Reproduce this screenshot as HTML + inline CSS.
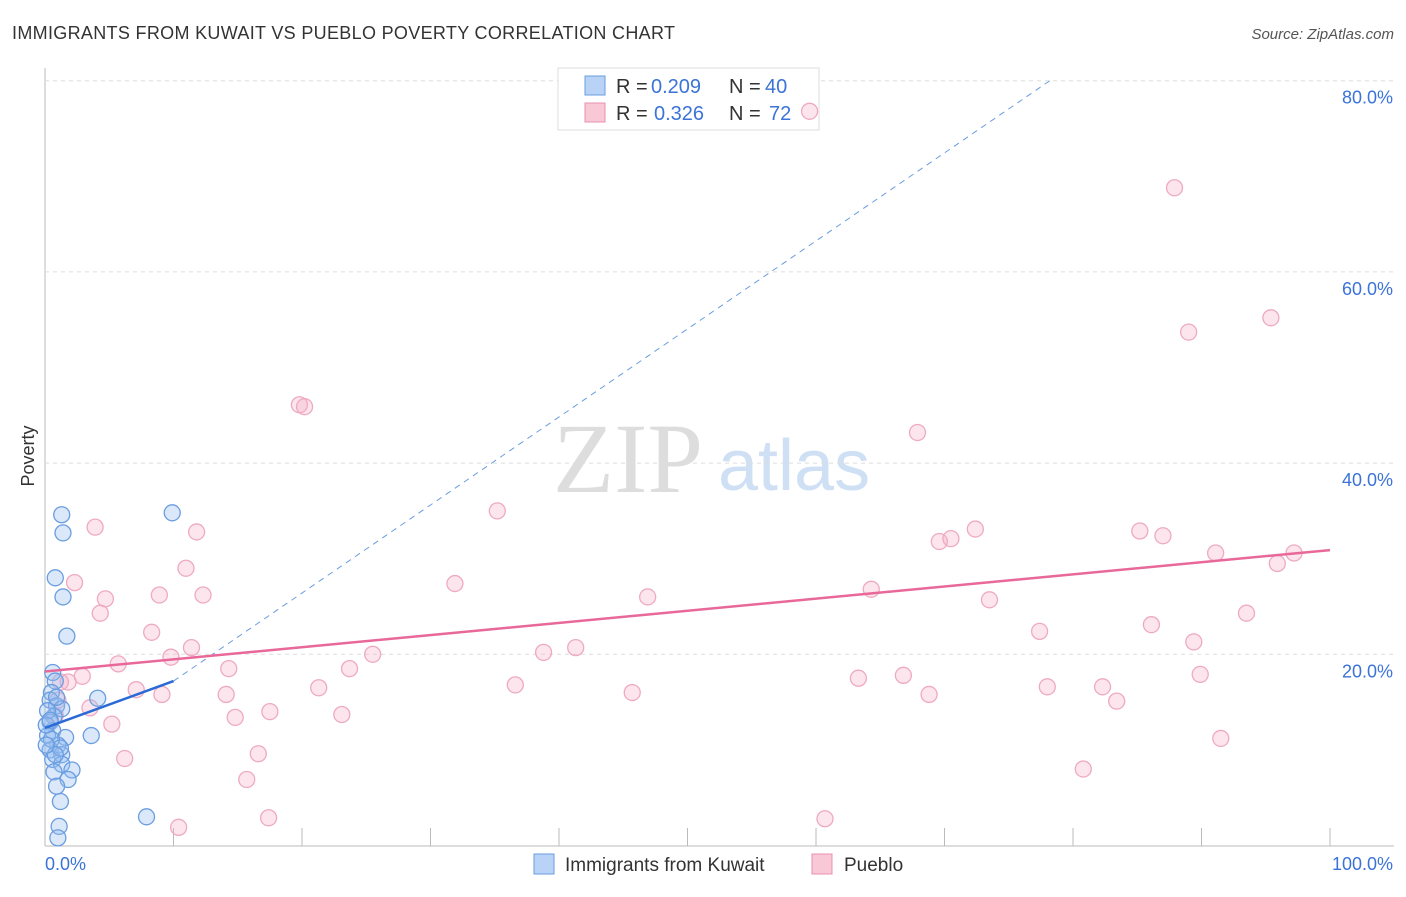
<!DOCTYPE html>
<html><head><meta charset="utf-8"><style>
body{margin:0;background:#fff;font-family:"Liberation Sans",sans-serif;}
</style></head><body>
<svg id="c" width="1406" height="892" xmlns="http://www.w3.org/2000/svg">
<text x="12" y="39" font-size="18" fill="#333" textLength="663">IMMIGRANTS FROM KUWAIT VS PUEBLO POVERTY CORRELATION CHART</text>
<text x="1394" y="39" font-size="15" fill="#555" font-style="italic" text-anchor="end">Source: ZipAtlas.com</text>
<text x="553" y="492" font-size="100" fill="#ddd" font-family="Liberation Serif,serif">ZIP</text>
<text x="718" y="490" font-size="72" fill="#cfe0f5">atlas</text>
<text x="34" y="456" font-size="18" fill="#333" transform="rotate(-90 34 456)" text-anchor="middle">Poverty</text>
<g id="grid"></g>
<g>
<rect x="558" y="68" width="261" height="62" fill="#fff" stroke="#ddd"/>
<rect x="585" y="76" width="20" height="19" fill="#b8d3f5" stroke="#6a9de0"/>
<rect x="585" y="103" width="20" height="19" fill="#f9c8d6" stroke="#e890ad"/>
<text x="616" y="93" font-size="20" fill="#333">R =</text><text x="651" y="93" font-size="20" fill="#3b73d8">0.209</text>
<text x="729" y="93" font-size="20" fill="#333">N =</text><text x="765" y="93" font-size="20" fill="#3b73d8">40</text>
<text x="616" y="120" font-size="20" fill="#333">R =</text><text x="654" y="120" font-size="20" fill="#3b73d8">0.326</text>
<text x="729" y="120" font-size="20" fill="#333">N =</text><text x="769" y="120" font-size="20" fill="#3b73d8">72</text>
</g>
<g id="pts"></g><g id="lines"></g>
<g>
<rect x="534" y="854" width="20" height="20" fill="#b8d3f5" stroke="#6a9de0"/>
<text x="565" y="871" font-size="19" fill="#333">Immigrants from Kuwait</text>
<rect x="812" y="854" width="20" height="20" fill="#f9c8d6" stroke="#e890ad"/>
<text x="844" y="871" font-size="19" fill="#333">Pueblo</text>
</g>
<text x="45" y="870" font-size="18" fill="#3b73d8">0.0%</text>
<text x="1393" y="870" font-size="18" fill="#3b73d8" text-anchor="end">100.0%</text>
</svg>
<script>
const yTicks=[20,40,60,80];
const yTickLabels=["20.0%","40.0%","60.0%","80.0%"];
const blueX=[1.3,1.4,0.8,1.4,1.7,9.9,4.1,3.6,0.6,0.8,0.5,0.4,0.9,1.3,0.7,0.4,0.6,0.2,1.6,1.0,0.4,1.3,0.6,1.3,2.1,0.7,1.8,0.9,1.2,7.9,1.1,1.0,0.2,0.5,0.1,0.9,0.4,1.2,0.8,0.1];
const blueY=[34.6,32.7,28.0,26.0,21.9,34.8,15.4,11.5,18.1,17.2,16.0,15.2,14.6,14.3,13.5,12.9,12.0,11.5,11.3,10.5,10.0,9.5,9.0,8.5,7.9,7.7,6.9,6.2,4.6,3.0,2.0,0.8,14.1,11.1,12.6,15.5,13.1,10.2,9.5,10.5];
const pinkX=[3.9,2.3,4.7,4.3,8.3,8.9,10.97,11.8,12.3,5.7,2.9,1.8,7.1,9.1,9.8,11.4,14.3,14.1,14.8,17.5,16.6,15.7,17.4,10.4,6.2,5.2,3.5,19.8,20.2,21.3,23.1,23.7,25.5,31.9,35.2,36.6,38.8,41.3,45.7,46.9,59.5,60.7,63.3,64.3,66.8,67.9,68.8,69.6,70.5,72.4,73.5,77.4,78.0,80.8,82.3,83.4,85.2,86.1,87.0,87.9,89.0,89.4,89.9,91.1,91.5,93.5,95.4,95.9,97.2,1.0,0.8,1.2];
const pinkY=[33.3,27.5,25.8,24.3,22.3,26.2,29.0,32.8,26.2,19.0,17.7,17.1,16.3,15.8,19.7,20.7,18.5,15.8,13.4,14.0,9.6,6.9,2.9,1.9,9.1,12.7,14.4,46.1,45.9,16.5,13.7,18.5,20.0,27.4,35.0,16.8,20.2,20.7,16.0,26.0,76.8,2.8,17.5,26.8,17.8,43.2,15.8,31.8,32.1,33.1,25.7,22.4,16.6,8.0,16.6,15.1,32.9,23.1,32.4,68.8,53.7,21.3,17.9,30.6,11.2,24.3,55.2,29.5,30.6,15.2,13.6,17.1];
const blueFit=[[0,12.3],[10,17.2]], blueDash=[[10,17.2],[78.2,80]];
const pinkFit=[[0,18.2],[100,30.9]];
const sx=v=>45+v*12.85, sy=v=>845.5-v*9.56;
const NS="http://www.w3.org/2000/svg";
function mk(t,a,p){const e=document.createElementNS(NS,t);for(const k in a)e.setAttribute(k,a[k]);p.appendChild(e);return e;}
const g=document.getElementById('grid');
const ax=mk('line',{x1:45,y1:68,x2:45,y2:846,stroke:'#bbb'},g);


const bx=mk('line',{x1:45,y1:846,x2:1394,y2:846,stroke:'#bbb'},g);


for(let k=1;k<=10;k++){const t=mk('line',{x1:sx(k*10),x2:sx(k*10),y1:828,y2:846,stroke:'#bbb'},g);

}
yTicks.forEach((v,i)=>{const l=mk('line',{x1:45,x2:1394,y1:sy(v),y2:sy(v),stroke:'#ddd','stroke-dasharray':'4,4'},g);


const t=mk('text',{x:1393,y:sy(v)+23,'font-size':18,fill:'#3b73d8','text-anchor':'end'},g);t.textContent=yTickLabels[i];

});
const P=document.getElementById('pts');
pinkX.forEach((x,i)=>{const c=mk('circle',{cx:sx(x),cy:sy(pinkY[i]),r:8,fill:'rgba(246,170,195,0.3)',stroke:'#eeaac0','stroke-width':1.3},P);

});
blueX.forEach((x,i)=>{const c=mk('circle',{cx:sx(x),cy:sy(blueY[i]),r:8,fill:'rgba(150,190,240,0.35)',stroke:'#6a9de0','stroke-width':1.3},P);

});
const L=document.getElementById('lines');
const l1=mk('line',{x1:sx(blueDash[0][0]),y1:sy(blueDash[0][1]),x2:sx(blueDash[1][0]),y2:sy(blueDash[1][1]),stroke:'#6a9de0','stroke-dasharray':'6,5','stroke-width':1},L);


const l2=mk('line',{x1:sx(blueFit[0][0]),y1:sy(blueFit[0][1]),x2:sx(blueFit[1][0]),y2:sy(blueFit[1][1]),stroke:'#2a6ad6','stroke-width':2.5},L);


const l3=mk('line',{x1:sx(pinkFit[0][0]),y1:sy(pinkFit[0][1]),x2:sx(pinkFit[1][0]),y2:sy(pinkFit[1][1]),stroke:'#e8689a','stroke-width':2.5},L);


</script>
</body></html>
